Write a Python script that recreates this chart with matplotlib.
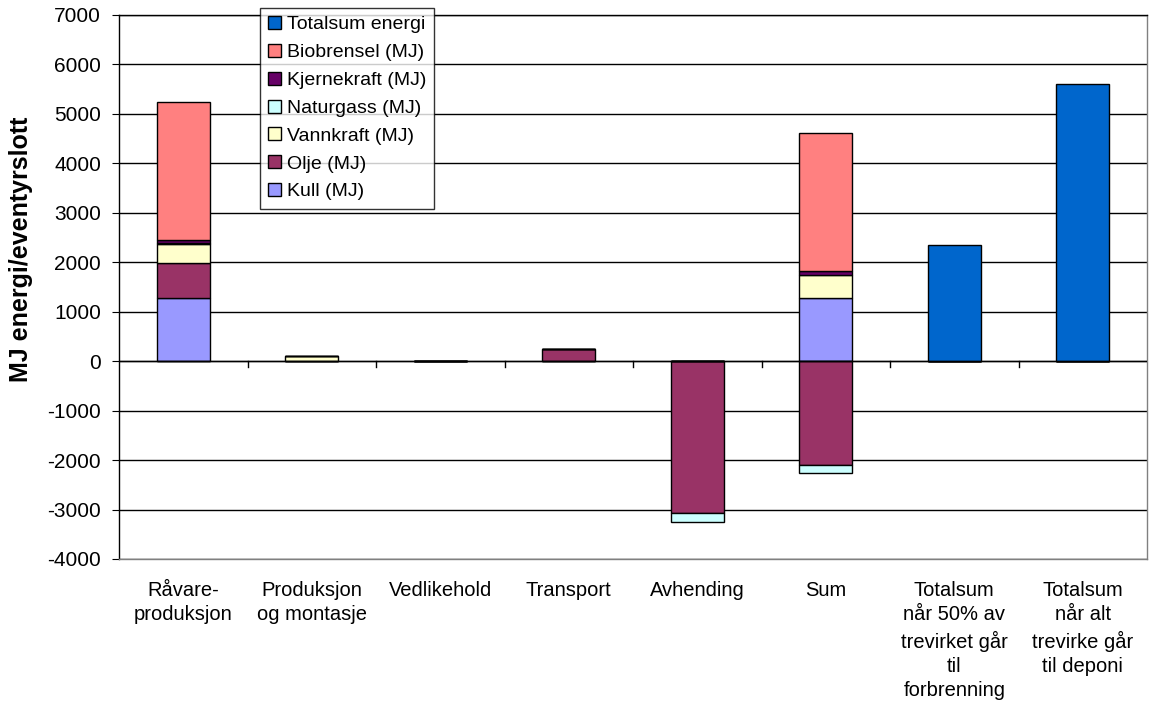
import matplotlib.pyplot as plt
import numpy as np

plt.rcParams['font.family'] = ['Liberation Sans', 'DejaVu Sans']
plt.rcParams['axes.unicode_minus'] = False

kategorier = ['Råvare-\nproduksjon', 'Produksjon\nog montasje', 'Vedlikehold',
              'Transport', 'Avhending', 'Sum',
              'Totalsum\nnår 50% av\ntrevirket går\ntil\nforbrenning',
              'Totalsum\nnår alt\ntrevirke går\ntil deponi']

# energi per fase (MJ), fasene foer "Sum"
kull = [1270, 0, 0, 0, 0]
olje = [715, 0, 0, 240, -3060]
vannkraft = [375, 100, 0, 0, 0]
naturgass = [30, 0, 0, 0, -190]
kjernekraft = [70, 0, 0, 0, 0]
biobrensel = [2790, 0, 0, 0, 0]
totalsum = [2340, 5600]

serier = [
    ('Kull (MJ)', kull, '#9999FF'),
    ('Olje (MJ)', olje, '#993366'),
    ('Vannkraft (MJ)', vannkraft, '#FFFFCC'),
    ('Naturgass (MJ)', naturgass, '#CCFFFF'),
    ('Kjernekraft (MJ)', kjernekraft, '#660066'),
    ('Biobrensel (MJ)', biobrensel, '#FF8080'),
]

fig = plt.figure(figsize=(11.51, 7.09), dpi=100)
ax = fig.add_axes([119/1151, 150/709, 1028/1151, 544/709])

x = np.arange(len(kategorier))
w = 0.41
pos = np.zeros(len(kategorier))
neg = np.zeros(len(kategorier))
handles = {}
for navn, verdier, farge in serier:
    v = np.zeros(len(kategorier))
    v[:5] = verdier
    v[5] = sum(verdier)
    bunn = np.where(v >= 0, pos, neg)
    b = ax.bar(x, v, w, bottom=bunn, color=farge, edgecolor='black', linewidth=1, zorder=3)
    handles[navn] = b
    pos = pos + np.where(v > 0, v, 0)
    neg = neg + np.where(v < 0, v, 0)

t = np.zeros(len(kategorier))
t[6:] = totalsum
handles['Totalsum energi'] = ax.bar(x, t, w, color='#0066CC', edgecolor='black',
                                    linewidth=1, zorder=3)

ax.set_xlim(-0.5, len(kategorier) - 0.5)
ax.set_ylim(-4000, 7000)
ax.set_yticks(np.arange(-4000, 7001, 1000))
ax.grid(axis='y', color='black', linewidth=1, zorder=0)
ax.tick_params(axis='y', direction='out', length=5, labelsize=15, pad=8)
ax.set_ylabel('MJ energi/eventyrslott', fontsize=18, fontweight='bold')
ax.yaxis.set_label_coords(-0.084, 0.57)

# x-aksen ligger paa null, med streker mellom kategoriene
ax.axhline(0, color='black', linewidth=1, zorder=4)
for g in np.arange(0.5, len(kategorier) - 1, 1.0):
    ax.plot([g, g], [0, -110], color='black', linewidth=1, zorder=4)
ax.set_xticks(x)
ax.set_xticklabels(kategorier, fontsize=14.5, linespacing=1.35)
ax.tick_params(axis='x', length=0, pad=16)

for s in ax.spines.values():
    s.set_linewidth(1)
    s.set_color('black')
ax.spines['right'].set_color('#808080')
ax.spines['bottom'].set_color('#808080')

rekkefolge = ['Totalsum energi', 'Biobrensel (MJ)', 'Kjernekraft (MJ)', 'Naturgass (MJ)',
              'Vannkraft (MJ)', 'Olje (MJ)', 'Kull (MJ)']
leg = fig.legend([handles[n] for n in rekkefolge], rekkefolge,
                 loc='upper left', bbox_to_anchor=(260/1151, 1 - 8/709),
                 fontsize=14, frameon=True, fancybox=False, edgecolor='black',
                 handlelength=0.65, handleheight=0.65, handletextpad=0.3,
                 labelspacing=0.54, borderpad=0.42, borderaxespad=0)
leg.get_frame().set_linewidth(1)

fig.savefig('out.png', dpi=100)
